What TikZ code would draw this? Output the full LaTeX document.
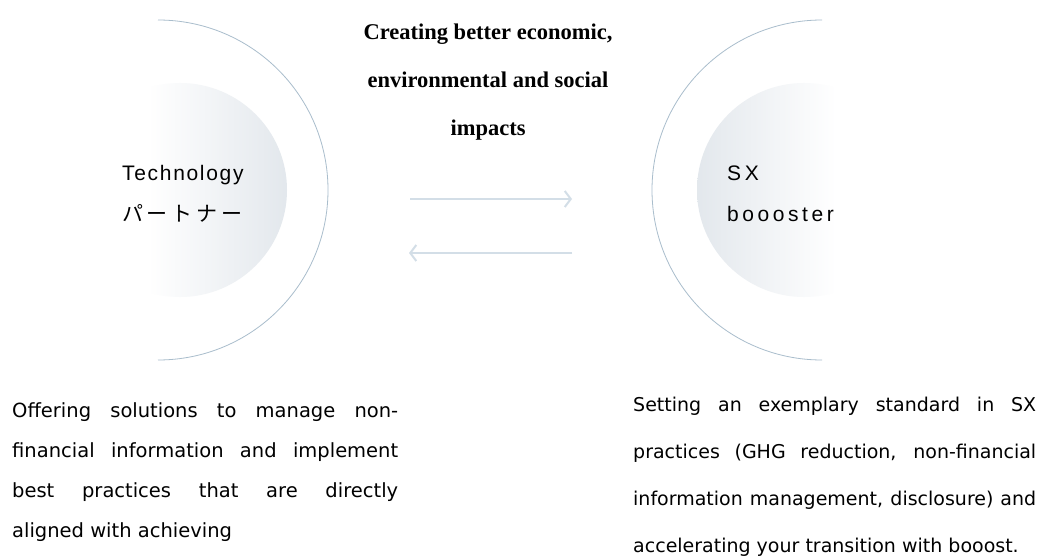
\documentclass[tikz,border=0pt]{standalone}
\usepackage{fontspec}
\setmainfont{Liberation Serif}
\newfontfamily\tagfont[LetterSpace=8]{Liberation Sans}
\newfontfamily\sxfont[LetterSpace=17]{Liberation Sans}
\newfontfamily\jpfont[LetterSpace=18]{Noto Sans CJK JP}
\newfontfamily\bodyfont{DejaVu Sans}
\usepackage{tikz}
\usetikzlibrary{arrows.meta,positioning}
\definecolor{rimblue}{HTML}{A9BDCC}
\definecolor{flowblue}{HTML}{D3DEE7}
\definecolor{discgray}{HTML}{E2E7EC}
\hyphenpenalty=10000

\begin{document}
\begin{tikzpicture}
[x=1pt,y=-1pt,>={Straight Barb[length=6pt,width=16pt]},
 rim/.style = {draw=rimblue, line width=0.8pt},
 flow/.style = {draw=flowblue, line width=2pt, ->},
 tag/.style = {font=\tagfont\fontsize{21}{41}\selectfont, align=left, inner sep=0pt, anchor=north west},
 body/.style = {font=\bodyfont\fontsize{19.5}{40}\selectfont, align=justify, inner sep=0pt, anchor=north west},]
\useasboundingbox (0,0) rectangle (1043,556);
\fill[white] (0,0) rectangle (1043,556);
% left disc and rim
\begin{scope}
\clip (180,190) circle (107);
\shade[left color=white, right color=discgray] (148,80) rectangle (290,300);
\end{scope}
\draw[rim] (158,20) arc (-90:90:170);
% right disc and rim
\begin{scope}
\clip (804,190) circle (107);
\shade[left color=discgray, right color=white] (694,80) rectangle (836,300);
\end{scope}
\draw[rim] (822,20) arc (270:90:170);
\node (T) at (122,165)[tag] {Technology\\{\jpfont パートナー}};
\node (S) at (727,166)[tag, font=\sxfont\fontsize{21}{41}\selectfont] {SX\\boooster};
\node (C) at (488,24)[inner sep=0pt, anchor=north, align=center, font=\bfseries\fontsize{22.5}{48}\selectfont]
  {Creating better economic,\\environmental and social\\impacts};
\coordinate (P1) at (410,199);
\coordinate (P2) at (572,199);
\coordinate (Q1) at (572,253);
\coordinate (Q2) at (409,253);
\draw[flow] (P1)--(P2);
\draw[flow] (Q1)--(Q2);
\node (L) at (12,402)[body, text width=386pt]
  {Offering solutions to manage non-\linebreak financial information and implement\linebreak best practices that are directly\linebreak aligned with achieving};
\node (R) at (633,397)[body, text width=403pt, font=\bodyfont\fontsize{19}{47}\selectfont]
  {Setting an exemplary standard in SX\linebreak practices (GHG reduction, non-financial\linebreak information management, disclosure) and\linebreak accelerating your transition with booost.};
\end{tikzpicture}
\end{document}
